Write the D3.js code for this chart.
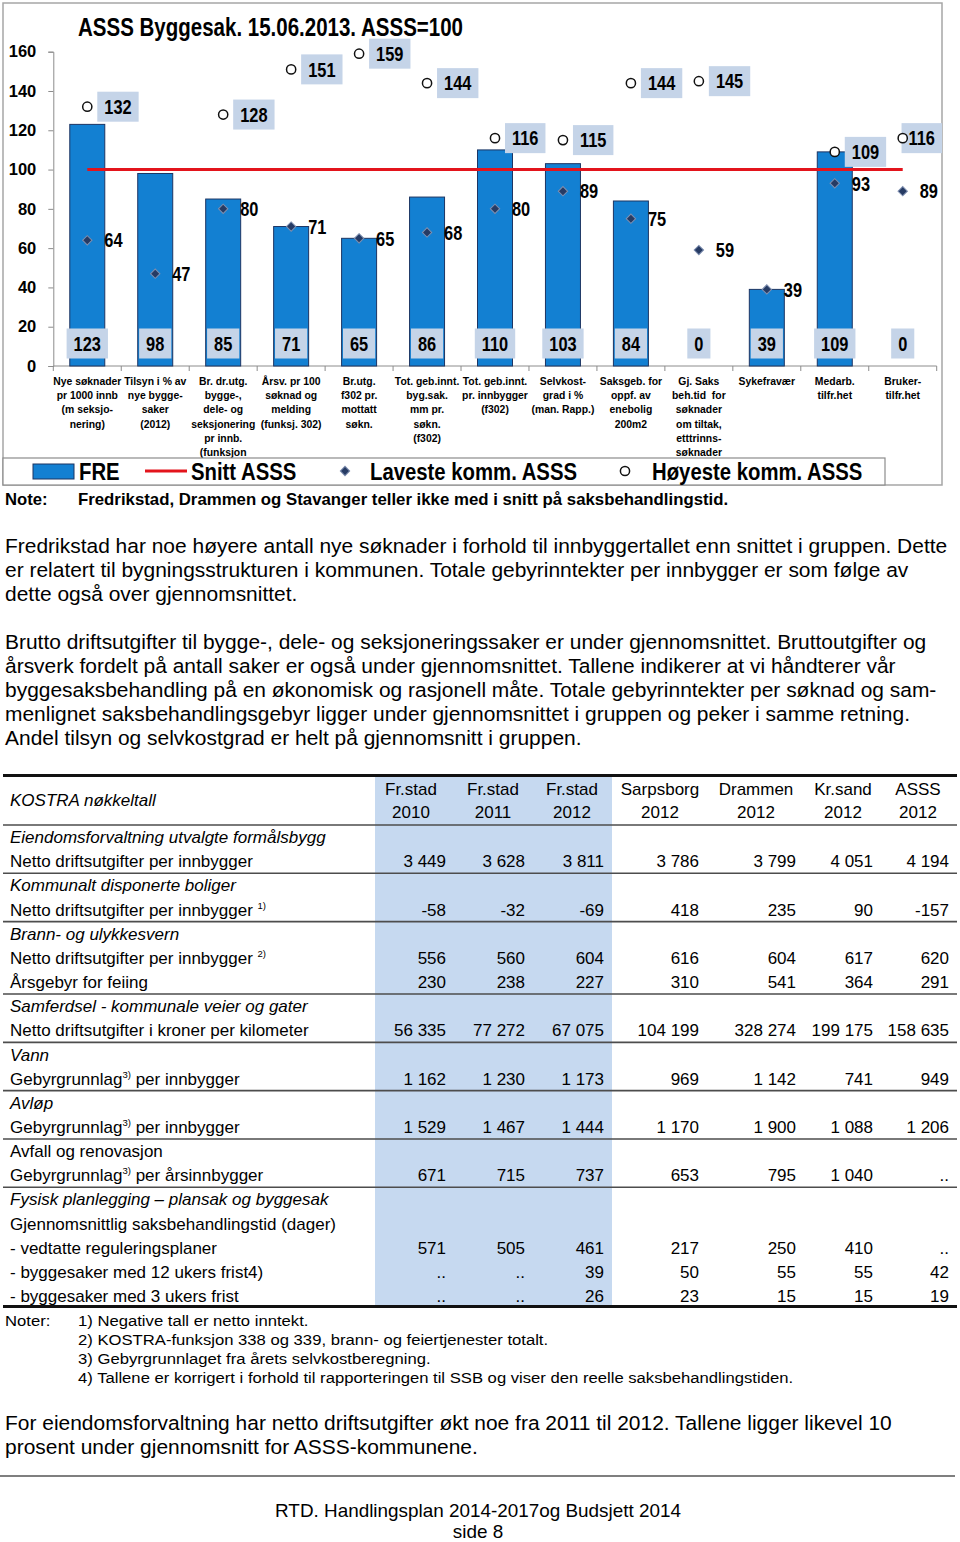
<!DOCTYPE html>
<html><head><meta charset="utf-8">
<script src="https://cdn.jsdelivr.net/npm/d3@7"></script>
<style>body{margin:0;background:#fff} svg{display:block}</style>
</head><body><svg id="c" width="960" height="1542"></svg>
<script>
// ---------------- DATA ----------------
const chartTitle = "ASSS Byggesak. 15.06.2013. ASSS=100";
const categories = [
 ["Nye søknader","pr 1000 innb","(m seksjo-","nering)"],
 ["Tilsyn i % av","nye bygge-","saker","(2012)"],
 ["Br. dr.utg.","bygge-,","dele- og","seksjonering","pr innb.","(funksjon"],
 ["Årsv. pr 100","søknad og","melding","(funksj. 302)"],
 ["Br.utg.","f302 pr.","mottatt","søkn."],
 ["Tot. geb.innt.","byg.sak.","mm pr.","søkn.","(f302)"],
 ["Tot. geb.innt.","pr. innbygger","(f302)"],
 ["Selvkost-","grad i %","(man. Rapp.)"],
 ["Saksgeb. for","oppf. av","enebolig","200m2"],
 ["Gj. Saks","beh.tid  for","søknader","om tiltak,","etttrinns-","søknader"],
 ["Sykefravær"],
 ["Medarb.","tilfr.het"],
 ["Bruker-","tilfr.het"]
];
const freValues     = [123, 98, 85, 71, 65, 86, 110, 103, 84, 0, 39, 109, 0];
const snittValues   = [100,100,100,100,100,100,100,100,100,100,100,100,100];
const lowestValues  = [64, 47, 80, 71, 65, 68, 80, 89, 75, 59, 39, 93, 89];
const highestValues = [132, null, 128, 151, 159, 144, 116, 115, 144, 145, null, 109, 116];
const yTicks = [0, 20, 40, 60, 80, 100, 120, 140, 160];
const legendLabels = ["FRE", "Snitt ASSS", "Laveste komm. ASSS", "Høyeste komm. ASSS"];
const chartNote = ["Note:", "Fredrikstad, Drammen og Stavanger teller ikke med i snitt på saksbehandlingstid."];

const para1 = [
 "Fredrikstad har noe høyere antall nye søknader i forhold til innbyggertallet enn snittet i gruppen. Dette",
 "er relatert til bygningsstrukturen i kommunen. Totale gebyrinntekter per innbygger er som følge av",
 "dette også over gjennomsnittet."];
const para2 = [
 "Brutto driftsutgifter til bygge-, dele- og seksjoneringssaker er under gjennomsnittet. Bruttoutgifter og",
 "årsverk fordelt på antall saker er også under gjennomsnittet. Tallene indikerer at vi håndterer vår",
 "byggesaksbehandling på en økonomisk og rasjonell måte. Totale gebyrinntekter per søknad og sam-",
 "menlignet saksbehandlingsgebyr ligger under gjennomsnittet i gruppen og peker i samme retning.",
 "Andel tilsyn og selvkostgrad er helt på gjennomsnitt i gruppen."];
const para3 = [
 "For eiendomsforvaltning har netto driftsutgifter økt noe fra 2011 til 2012. Tallene ligger likevel 10",
 "prosent under gjennomsnitt for ASSS-kommunene."];

const tableTitle = "KOSTRA nøkkeltall";
const tableHeaders = [["Fr.stad","2010"],["Fr.stad","2011"],["Fr.stad","2012"],["Sarpsborg","2012"],["Drammen","2012"],["Kr.sand","2012"],["ASSS","2012"]];
const tableGroups = [
 [ {t:"Eiendomsforvaltning utvalgte formålsbygg", it:true},
   {t:"Netto driftsutgifter per innbygger", v:["3 449","3 628","3 811","3 786","3 799","4 051","4 194"]} ],
 [ {t:"Kommunalt disponerte boliger", it:true},
   {t:"Netto driftsutgifter per innbygger ", sup:"1)", v:["-58","-32","-69","418","235","90","-157"]} ],
 [ {t:"Brann- og ulykkesvern", it:true},
   {t:"Netto driftsutgifter per innbygger ", sup:"2)", v:["556","560","604","616","604","617","620"]},
   {t:"Årsgebyr for feiing", v:["230","238","227","310","541","364","291"]} ],
 [ {t:"Samferdsel - kommunale veier og gater", it:true},
   {t:"Netto driftsutgifter i kroner per kilometer", v:["56 335","77 272","67 075","104 199","328 274","199 175","158 635"]} ],
 [ {t:"Vann", it:true},
   {t:"Gebyrgrunnlag", sup:"3)", rest:" per innbygger", v:["1 162","1 230","1 173","969","1 142","741","949"]} ],
 [ {t:"Avløp", it:true},
   {t:"Gebyrgrunnlag", sup:"3)", rest:" per innbygger", v:["1 529","1 467","1 444","1 170","1 900","1 088","1 206"]} ],
 [ {t:"Avfall og renovasjon"},
   {t:"Gebyrgrunnlag", sup:"3)", rest:" per årsinnbygger", v:["671","715","737","653","795","1 040",".."]} ],
 [ {t:"Fysisk planlegging – plansak og byggesak", it:true},
   {t:"Gjennomsnittlig saksbehandlingstid (dager)"},
   {t:"- vedtatte reguleringsplaner", v:["571","505","461","217","250","410",".."]},
   {t:"- byggesaker med 12 ukers frist4)", v:["..","..","39","50","55","55","42"]},
   {t:"- byggesaker med 3 ukers frist", v:["..","..","26","23","15","15","19"]} ]
];
const tableNotesLabel = "Noter:";
const tableNotes = [
 "1) Negative tall er netto inntekt.",
 "2) KOSTRA-funksjon 338 og 339, brann- og feiertjenester totalt.",
 "3) Gebyrgrunnlaget fra årets selvkostberegning.",
 "4) Tallene er korrigert i forhold til rapporteringen til SSB og viser den reelle saksbehandlingstiden."];
const footerLines = ["RTD. Handlingsplan 2014-2017og Budsjett 2014", "side 8"];

// ---------------- STYLE / LAYOUT ----------------
const BAR = "#1380d2", BARSTROKE = "#1d3563", LABELBG = "#c5d4e8", RED = "#e3141c";
const DIA_FILL = "#263b64", DIA_STROKE = "#7f8fb0";
const ARIAL = "'Liberation Sans', Arial, sans-serif";
const svg = d3.select('#c');

function measure(font){
  const t = svg.append('text').attr('font-family',font).attr('font-weight','bold').attr('font-size',50).text('ASSS Byggesak 15.06');
  const v = t.node().getComputedTextLength(); t.remove(); return v;
}
const hasNarrow = Math.abs(measure("'Liberation Sans Narrow',monospace") - measure("monospace")) > 1;
const NK = hasNarrow ? 1 : 0.82;
const NFAM = hasNarrow ? "'Liberation Sans Narrow'" : ARIAL;

function ntext(parent, x, yc, str, fs, anchor){
  const g = parent.append('g').attr('transform', `translate(${x},${yc}) scale(${NK},1)`);
  const t = g.append('text').attr('y', 0.36*fs).attr('font-family', NFAM).attr('font-weight','bold')
    .attr('font-size', fs).attr('text-anchor', anchor || 'start').attr('fill','#000').text(str);
  return t.node().getComputedTextLength()*NK;
}
function atext(parent, x, yc, str, fs, opts={}){
  const k = opts.k || 1;
  const g = parent.append('g').attr('transform', `translate(${x},0) scale(${k},1)`);
  return g.append('text').attr('x', 0).attr('y', yc + 0.36*fs).attr('font-family', ARIAL)
    .attr('font-size', fs).attr('font-weight', opts.bold ? 'bold':'normal')
    .attr('font-style', opts.italic ? 'italic':'normal')
    .attr('text-anchor', opts.anchor || 'start').attr('fill','#000')
    .style('white-space','pre').text(str);
}

// ---------------- CHART ----------------
const chart = svg.append('g');
chart.append('rect').attr('x',3).attr('y',3).attr('width',939).attr('height',482)
  .attr('fill','none').attr('stroke','#a6a6a6').attr('stroke-width',1.5);

const x = d3.scaleBand().domain(d3.range(categories.length)).range([53.3, 936.7]).padding(0);
const y = d3.scaleLinear().domain([0,160]).range([366, 51.7]);
const cx = i => x(i) + x.bandwidth()/2;
const barW = x.bandwidth()*0.515;

// title
ntext(chart, 270.5, 27, chartTitle, 25, 'middle');

// y axis
const yAxis = chart.append('g').attr('transform', `translate(${x.range()[0]},0)`)
  .call(d3.axisLeft(y).tickValues(yTicks).tickSize(5).tickPadding(12).tickFormat(d3.format('d')));
yAxis.select('.domain').attr('stroke','#8c8c8c');
yAxis.selectAll('.tick line').attr('stroke','#8c8c8c');
yAxis.selectAll('.tick text').attr('font-family', ARIAL).attr('font-weight','bold').attr('font-size',16.5).attr('fill','#000');

// x axis
const xAxis = chart.append('g').attr('transform', `translate(0,${y(0)})`);
xAxis.append('line').attr('x1', x.range()[0]).attr('x2', x.range()[1]).attr('stroke','#8c8c8c');
xAxis.selectAll('line.tk').data(d3.range(categories.length+1)).join('line').attr('class','tk')
  .attr('x1', i => i < categories.length ? x(i) : x.range()[1]).attr('x2', i => i < categories.length ? x(i) : x.range()[1])
  .attr('y1',0).attr('y2',5).attr('stroke','#8c8c8c');

// category labels
categories.forEach((lines, i) => {
  lines.forEach((ln, j) => atext(chart, cx(i), 381 + j*14.3, ln, 10.4, {bold:true, anchor:'middle'}));
});

// bars
chart.selectAll('rect.bar').data(freValues).join('rect').attr('class','bar')
  .attr('x', (d,i) => cx(i) - barW/2).attr('width', barW)
  .attr('y', d => y(d)).attr('height', d => y(0) - y(d))
  .attr('fill', BAR).attr('stroke', BARSTROKE).attr('stroke-width', 1)
  .style('display', d => d > 0 ? null : 'none');

// average line
chart.append('path').datum(snittValues).attr('fill','none').attr('stroke',RED).attr('stroke-width',3)
  .attr('d', d3.line().x((d,i) => cx(i)).y(d => y(d)));

// bar value labels (boxes near bottom)
freValues.forEach((v, i) => {
  const g = chart.append('g');
  const r = g.append('rect').attr('fill', LABELBG);
  const w = ntext(g, cx(i), y(0) - 22.5, String(v), 20, 'middle');
  r.attr('x', cx(i) - w/2 - 7).attr('width', w + 14).attr('y', y(0) - 37.5).attr('height', 30);
});

// highest markers + labels
highestValues.forEach((v, i) => {
  if (v == null) return;
  const g = chart.append('g');
  const r = g.append('rect').attr('fill', LABELBG);
  const tmp = chart.append('text').attr('font-family', NFAM).attr('font-weight','bold').attr('font-size',20).text(String(v));
  const w = tmp.node().getComputedTextLength()*NK; tmp.remove();
  const bw = w + 14;
  const bx = Math.min(cx(i) + 10, 942 - bw);
  r.attr('x', bx).attr('width', bw).attr('y', y(v) - 15).attr('height', 30);
  ntext(g, bx + bw/2, y(v), String(v), 20, 'middle');
});
chart.selectAll('circle.hi').data(highestValues).join('circle').attr('class','hi')
  .attr('cx', (d,i) => cx(i)).attr('cy', d => d == null ? 0 : y(d)).attr('r', 4.6)
  .attr('fill','#fff').attr('stroke','#111').attr('stroke-width',1.5)
  .style('display', d => d == null ? 'none' : null);

// lowest markers + labels
const diamond = d3.symbol(d3.symbolSquare, 44);
chart.selectAll('path.lo').data(lowestValues).join('path').attr('class','lo')
  .attr('d', diamond).attr('transform', (d,i) => `translate(${cx(i)},${y(d)}) rotate(45)`)
  .attr('fill', DIA_FILL).attr('stroke', DIA_STROKE).attr('stroke-width', 1);
lowestValues.forEach((v, i) => ntext(chart, cx(i) + 17, y(v), String(v), 20, 'start'));

// legend
const lg = chart.append('g');
lg.append('rect').attr('x',3).attr('y',458).attr('width',882).attr('height',27)
  .attr('fill','#fff').attr('stroke','#8c8c8c').attr('stroke-width',1.2);
lg.append('rect').attr('x',33).attr('y',464).attr('width',41).attr('height',15).attr('fill',BAR).attr('stroke',BARSTROKE);
ntext(lg, 79, 471.5, legendLabels[0], 24.8, 'start');
lg.append('line').attr('x1',145).attr('x2',187).attr('y1',471).attr('y2',471).attr('stroke',RED).attr('stroke-width',3);
ntext(lg, 191, 471.5, legendLabels[1], 24.8, 'start');
lg.append('path').attr('d', diamond).attr('transform','translate(345,471) rotate(45)').attr('fill',DIA_FILL).attr('stroke',DIA_STROKE);
ntext(lg, 370, 471.5, legendLabels[2], 24.8, 'start');
lg.append('circle').attr('cx',625).attr('cy',471).attr('r',4.6).attr('fill','#fff').attr('stroke','#111').attr('stroke-width',1.5);
ntext(lg, 652, 471.5, legendLabels[3], 24.8, 'start');

// chart note
atext(svg, 5, 499, chartNote[0], 16, {bold:true, k:1.04});
atext(svg, 78, 499, chartNote[1], 16, {bold:true, k:1.05});

// ---------------- PARAGRAPHS ----------------
const PFS = 19.5, PK = 1.075;
para1.forEach((ln, j) => atext(svg, 5, 546 + j*24, ln, PFS, {k:PK}));
para2.forEach((ln, j) => atext(svg, 5, 642 + j*24, ln, PFS, {k:PK}));
para3.forEach((ln, j) => atext(svg, 5, 1423 + j*24, ln, PFS, {k:PK}));

// ---------------- TABLE ----------------
const T = svg.append('g');
const colRight  = [446, 525, 604, 699, 796, 873, 949];
const colCenter = [411, 493, 572, 660, 756, 843, 918];
const TFS = 17;
const rowTop = 825, rowH = 24.15;
const allRows = tableGroups.flat();
const tableBottom = rowTop + allRows.length*rowH;
T.append('rect').attr('x',375).attr('y',776).attr('width',237).attr('height', tableBottom - 776).attr('fill','#c6d9f0');

atext(T, 10, 800, tableTitle, TFS, {italic:true});
tableHeaders.forEach((h, k) => {
  atext(T, colCenter[k], 789, h[0], TFS, {anchor:'middle'});
  atext(T, colCenter[k], 812, h[1], TFS, {anchor:'middle'});
});
let ri = 0;
const sepYs = [rowTop];
tableGroups.forEach(gr => {
  gr.forEach(row => {
    const yc = rowTop + ri*rowH + rowH/2;
    const t = atext(T, 10, yc, row.t, TFS, {italic: !!row.it});
    if (row.sup) {
      t.append('tspan').attr('font-size', 9.5).attr('dy', -7).text(row.sup);
      if (row.rest) t.append('tspan').attr('dy', 7).text(row.rest);
    }
    if (row.v) row.v.forEach((val, k) => atext(T, colRight[k], yc, val, TFS, {anchor:'end'}));
    ri++;
  });
  sepYs.push(rowTop + ri*rowH);
});
T.selectAll('line.sep').data(sepYs.slice(0, -1)).join('line').attr('class','sep')
  .attr('x1',3).attr('x2',957).attr('y1', d => d).attr('y2', d => d)
  .attr('stroke','#4d4d4d').attr('stroke-width',1.6);
T.append('line').attr('x1',3).attr('x2',957).attr('y1',775.5).attr('y2',775.5).attr('stroke','#111').attr('stroke-width',3.2);
T.append('line').attr('x1',3).attr('x2',957).attr('y1',tableBottom - 1.5).attr('y2',tableBottom - 1.5).attr('stroke','#111').attr('stroke-width',3.2);

// table notes
atext(svg, 5, 1320, tableNotesLabel, 15.5, {k:1.075});
tableNotes.forEach((n, j) => atext(svg, 78, 1320 + j*19, n, 15.5, {k:1.075}));

// footer
svg.append('line').attr('x1',0).attr('x2',955).attr('y1',1476).attr('y2',1476).attr('stroke','#555').attr('stroke-width',1.3);
footerLines.forEach((f, j) => atext(svg, 478, 1511 + j*21, f, 18, {anchor:'middle', k:1.05}));
</script></body></html>
